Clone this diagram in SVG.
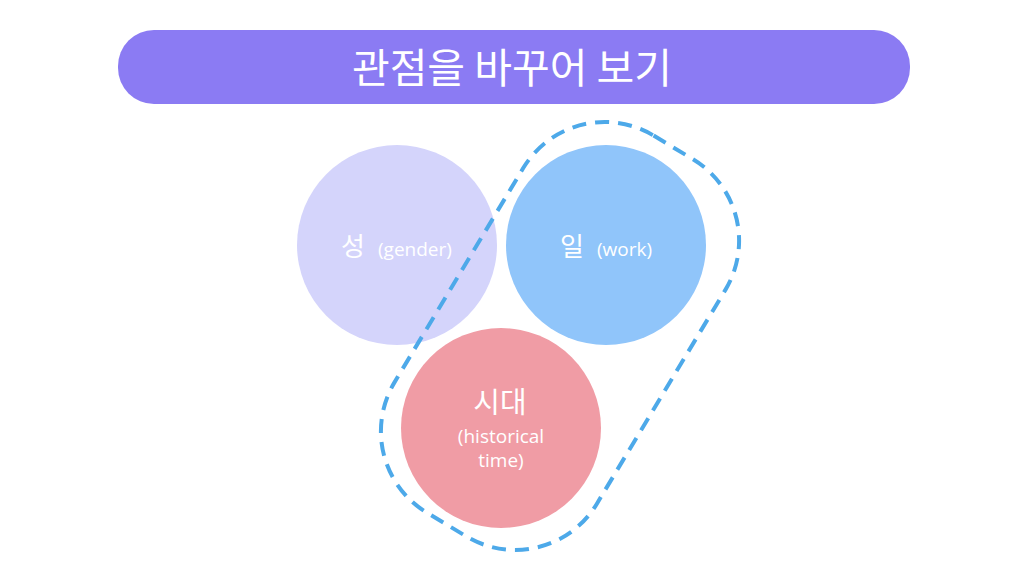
<svg xmlns="http://www.w3.org/2000/svg" width="1024" height="576" viewBox="0 0 1024 576">
<style>
.ko{font-family:"Noto Sans CJK KR","Noto Sans",sans-serif;fill:#fff}
.en{font-family:"Open Sans","Noto Sans",sans-serif;fill:#fff}
</style>
<rect width="1024" height="576" fill="#fff"/>
<g id="title">
<rect x="118" y="30" width="792" height="74" rx="36" ry="36" fill="#8B7BF3"/>
<text x="512" y="83" text-anchor="middle" class="ko" font-size="41">관점을 바꾸어 보기</text>
</g>
<g id="gender">
<circle cx="397" cy="245" r="100" fill="#D4D4FB"/>
<text x="353" y="256" text-anchor="middle" class="ko" font-size="26">성</text>
<text x="378" y="256" class="en" font-size="19">(gender)</text>
</g>
<g id="work">
<circle cx="606" cy="245" r="100" fill="#90C5FA"/>
<text x="572" y="256" text-anchor="middle" class="ko" font-size="26">일</text>
<text x="597" y="256" class="en" font-size="19">(work)</text>
</g>
<g id="time">
<circle cx="501" cy="428" r="100" fill="#F09CA5"/>
<text x="500" y="413" text-anchor="middle" class="ko" font-size="29">시대</text>
<text x="501" y="443" text-anchor="middle" class="en" font-size="19">(historical</text>
<text x="501" y="467" text-anchor="middle" class="en" font-size="19">time)</text>
</g>
<g id="connectors">
<rect x="-118" y="-220" width="236" height="440" rx="95" ry="95" transform="translate(560 336) rotate(31)" fill="none" stroke="#4DA9E9" stroke-width="4" stroke-dasharray="14 9"/>
</g>
</svg>
